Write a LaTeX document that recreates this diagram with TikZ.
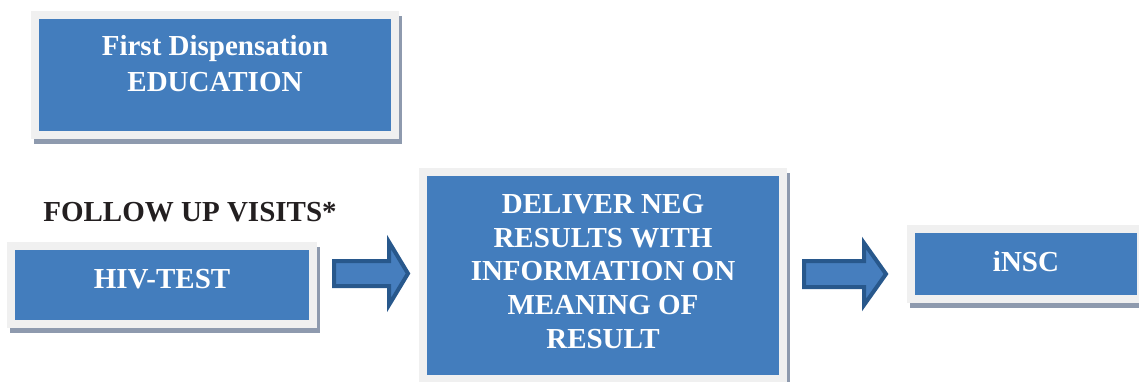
\documentclass[tikz,border=0pt]{standalone}
\usepackage{fontspec}
\setmainfont{Liberation Serif}
\usetikzlibrary{calc,backgrounds}
\definecolor{boxblue}{RGB}{67,125,189}
\definecolor{boxgray}{RGB}{240,240,240}
\definecolor{shadowc}{RGB}{142,154,174}
\definecolor{arrowdark}{RGB}{40,88,140}
\definecolor{arrowblue}{RGB}{70,126,190}
\definecolor{inkblack}{RGB}{35,31,32}
\newcommand\fatarrow[5]{%
  \draw[fatarrow] let \p1=#1, \p2=#2 in
    (\x1,{\y2+#4pt}) -- ({\x2-#3pt},{\y2+#4pt}) -- ({\x2-#3pt},{\y2+#5pt}) --
    (\x2,\y2) -- ({\x2-#3pt},{\y2-#5pt}) -- ({\x2-#3pt},{\y2-#4pt}) --
    (\x1,{\y2-#4pt}) -- cycle;}
\begin{document}
\begin{tikzpicture}[x=1pt,y=-1pt,
  box/.style={fill=boxblue,draw=boxgray,line width=8pt,inner sep=0pt,outer sep=0pt},
  boxshadow/.style={fill=shadowc},
  boxtext/.style={text=white,font=\bfseries\fontsize{29}{36}\selectfont,align=center,inner sep=0pt,anchor=base},
  fatarrow/.style={draw=arrowdark,fill=arrowblue,line width=4pt,line join=miter}]
\useasboundingbox (0,0) rectangle (1139,381);
\clip (0,0) rectangle (1139,381);
% boxes
\node[box,minimum width=360pt,minimum height=120pt] (edu) at (215,75) {};
\node[box,minimum width=302pt,minimum height=78pt] (hiv) at (162,285) {};
\node[box,minimum width=360pt,minimum height=207pt] (deliver) at (603,275.5) {};
\node[box,minimum width=230pt,minimum height=70pt] (insc) at (1026,264) {};
% shadows
\begin{scope}[on background layer]
\fill[boxshadow] ([shift={(-1,1)}]edu.north west) rectangle ([shift={(7,9)}]edu.south east);
\fill[boxshadow] ([shift={(-1,1)}]hiv.north west) rectangle ([shift={(7,9)}]hiv.south east);
\fill[boxshadow] ([shift={(-1,1)}]deliver.north west) rectangle ([shift={(7,9)}]deliver.south east);
\fill[boxshadow] ([shift={(-1,1)}]insc.north west) rectangle ([shift={(7,9)}]insc.south east);
\end{scope}
% texts (anchor=base is the baseline of the last line)
\node[boxtext] (edutext) at (215,91) {First Dispensation\\EDUCATION};
\node[boxtext,text=inkblack] (followup) at (190,221) {FOLLOW UP VISITS*};
\node[boxtext] (hivtext) at (162,288) {HIV-TEST};
\node[boxtext,font=\bfseries\fontsize{29}{33.75}\selectfont] (deltext) at (603,348.3)
  {DELIVER NEG\\RESULTS WITH\\INFORMATION ON\\MEANING OF\\RESULT};
\node[boxtext] (insctext) at (1026,271) {iNSC};
% arrows
\fatarrow{($(hiv.east)+(21,0)$)}{($(deliver.west)+(-15,-2)$)}{19}{12.5}{31.5}
\fatarrow{($(deliver.east)+(21,0)$)}{($(insc.west)+(-25,10)$)}{22}{13}{31}
\end{tikzpicture}
\end{document}
